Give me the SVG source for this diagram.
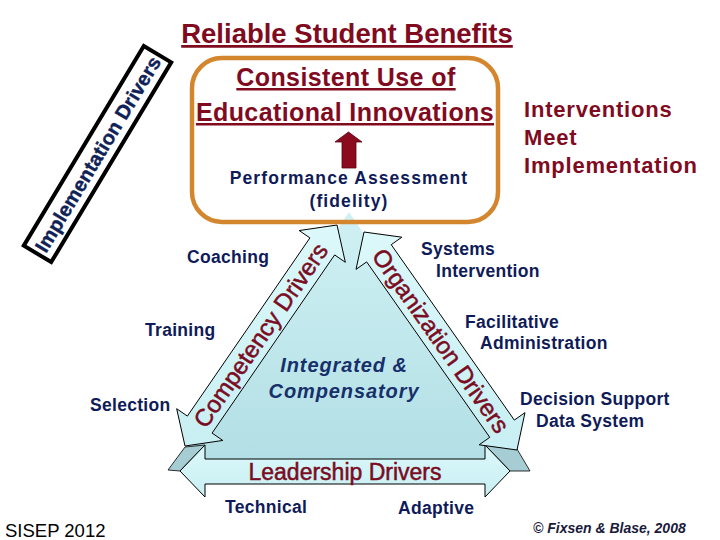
<svg xmlns="http://www.w3.org/2000/svg" width="720" height="540" viewBox="0 0 720 540">
<defs>
<linearGradient id="triG" x1="0" y1="0" x2="0" y2="1">
<stop offset="0" stop-color="#d0f1f4"/>
<stop offset="1" stop-color="#b2dfe5"/>
</linearGradient>
<linearGradient id="arrG" x1="0" y1="0" x2="0" y2="1">
<stop offset="0" stop-color="#dcf8fa"/>
<stop offset="1" stop-color="#c8eff3"/>
</linearGradient>
<style>
.red{fill:#800b1f;font-family:"Liberation Sans",Arial,sans-serif;}
.navy{fill:#0f1b58;font-family:"Liberation Sans",Arial,sans-serif;font-weight:bold;font-size:17.5px;letter-spacing:0.3px;}
.arrow{fill:url(#arrG);stroke:#000;stroke-width:1;stroke-linejoin:miter;}
.bevel{fill:#a6cdd3;stroke:#000;stroke-width:0.8;}
.drv{fill:#7a0c1f;stroke:#7a0c1f;stroke-width:0.5;font-family:"Liberation Sans",Arial,sans-serif;font-size:24px;}
</style>
</defs>
<rect width="720" height="540" fill="#ffffff"/>

<!-- outcome box background -->
<rect x="192" y="58" width="306" height="164" rx="30" ry="30" fill="#ffffff"/>

<g id="triangle">
<polygon points="349,212 182,460 518,460" fill="url(#triG)"/>
</g>

<g id="connectors">
<polygon class="bevel" points="205,445 185,447 168,470 180,471"/>
<polygon class="bevel" points="485,445 517,449 530,471 510,471"/>
<polygon id="leadership-arrow" class="arrow" points="180,471 205,445 205,459 485,459 485,445 510,471 485,497 485,484 205,484 205,497"/>
<polygon id="competency-arrow" class="arrow" points="185,446 222.80,440.45 212.09,433.08 334.63,254.92 345.34,262.29 337,225 299.20,230.55 309.91,237.92 187.37,416.08 176.66,408.71"/>
<polygon id="organization-arrow" class="arrow" points="364,232 356.02,269.37 366.66,261.90 489.78,437.34 479.14,444.81 517,450 524.98,412.63 514.34,420.10 391.22,244.66 401.86,237.19"/>
<polygon id="fidelity-arrow" points="342,168 342,142 335,142 348.5,132 362,142 356,142 356,168" fill="#8b0a1e" stroke="#5a0012" stroke-width="0.8"/>
</g>

<g id="outcome-box">
<rect x="192" y="58" width="306" height="164" rx="30" ry="30" fill="none" stroke="#d4862e" stroke-width="4.5"/>
<text class="red" x="346" y="86" text-anchor="middle" font-size="25" font-weight="bold" letter-spacing="0.4" text-decoration="underline">Consistent Use of</text>
<text class="red" x="345" y="121" text-anchor="middle" font-size="25" font-weight="bold" letter-spacing="0.4" text-decoration="underline">Educational Innovations</text>
<text class="navy" x="349" y="184" text-anchor="middle" style="letter-spacing:1.1px">Performance Assessment</text>
<text class="navy" x="349" y="207" text-anchor="middle" style="letter-spacing:1.1px">(fidelity)</text>
</g>

<g id="title">
<text class="red" x="347" y="43" text-anchor="middle" font-size="27.5" font-weight="bold" text-decoration="underline">Reliable Student Benefits</text>
</g>

<g id="implementation-drivers">
<g transform="translate(97.5,154) rotate(-59)">
<rect x="-116.5" y="-16" width="233" height="32" fill="#ffffff" stroke="#000" stroke-width="4"/>
<text x="0" y="7.5" text-anchor="middle" font-family="'Liberation Sans',Arial,sans-serif" font-weight="bold" font-size="20" letter-spacing="0.1" fill="#0f2258" stroke="#0f2258" stroke-width="0.4">Implementation Drivers</text>
</g>
</g>

<g id="interventions-meet">
<text class="red" x="524" y="117" font-size="22" font-weight="bold" letter-spacing="0.8">Interventions</text>
<text class="red" x="524" y="145" font-size="22" font-weight="bold" letter-spacing="0.8">Meet</text>
<text class="red" x="524" y="173" font-size="22" font-weight="bold" letter-spacing="0.8">Implementation</text>
</g>

<g id="competency-label">
<text class="drv" transform="translate(261,335.5) rotate(-55.5)" x="0" y="8" text-anchor="middle">Competency Drivers</text>
</g>
<g id="organization-label">
<text class="drv" transform="translate(440.5,341) rotate(54.9)" x="0" y="8" text-anchor="middle">Organization Drivers</text>
</g>
<g id="leadership-label">
<text class="drv" x="345" y="480" text-anchor="middle" style="font-size:23px">Leadership Drivers</text>
</g>

<g id="center">
<text x="344" y="372" text-anchor="middle" font-family="'Liberation Sans',Arial,sans-serif" font-weight="bold" font-style="italic" font-size="20" letter-spacing="0.9" fill="#17306a">Integrated &amp;</text>
<text x="344" y="398" text-anchor="middle" font-family="'Liberation Sans',Arial,sans-serif" font-weight="bold" font-style="italic" font-size="20" letter-spacing="0.9" fill="#17306a">Compensatory</text>
</g>

<g id="coaching"><text class="navy" x="187" y="263">Coaching</text></g>
<g id="training"><text class="navy" x="145" y="336">Training</text></g>
<g id="selection"><text class="navy" x="90" y="411">Selection</text></g>

<g id="systems-intervention">
<text class="navy" x="421" y="255">Systems</text>
<text class="navy" x="436" y="277">Intervention</text>
</g>
<g id="facilitative-administration">
<text class="navy" x="465" y="328">Facilitative</text>
<text class="navy" x="480" y="349">Administration</text>
</g>
<g id="decision-support">
<text class="navy" x="520" y="405">Decision Support</text>
<text class="navy" x="536" y="427">Data System</text>
</g>

<g id="technical"><text class="navy" x="225" y="513">Technical</text></g>
<g id="adaptive"><text class="navy" x="398" y="514">Adaptive</text></g>

<g id="footer">
<text x="5" y="537" font-family="'Liberation Sans',Arial,sans-serif" font-size="18.5" fill="#000">SISEP 2012</text>
<text x="533" y="533" font-family="'Liberation Sans',Arial,sans-serif" font-size="14" font-weight="bold" font-style="italic" fill="#1a1a3a">© Fixsen &amp; Blase, 2008</text>
</g>
</svg>
